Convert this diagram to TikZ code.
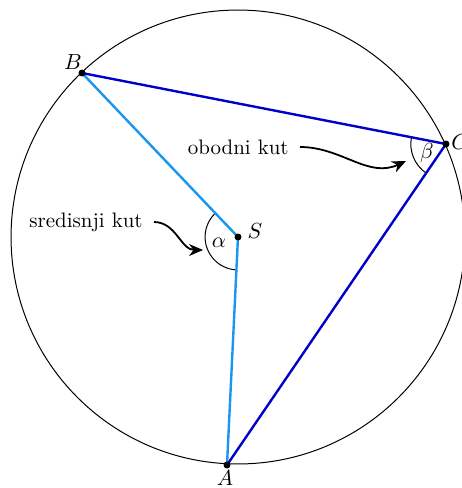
\documentclass[tikz,border=0pt]{standalone}
\usetikzlibrary{arrows.meta,calc}
\definecolor{lightb}{RGB}{25,150,240}
\definecolor{darkb}{RGB}{0,0,200}
\begin{document}
\begin{tikzpicture}[x=0.01762cm,y=-0.01762cm,
  font=\fontsize{10.5}{12}\selectfont,
  dot/.style={circle,fill=black,inner sep=0pt,minimum size=3.5pt},
  radline/.style={lightb,line width=1.2pt},
  chordline/.style={darkb,line width=1.2pt},
  anglearc/.style={line width=0.5pt},
  pointer/.style={black,line width=0.9pt,-{Stealth[length=7pt,width=6pt]}},
  lbl/.style={inner sep=1pt}]
\useasboundingbox (0,0) rectangle (462,488);
\begin{scope}
\clip (0,0) rectangle (462,488);
\coordinate (S) at (238,237);
\coordinate (A) at (227,465);
\coordinate (B) at (82,73);
\coordinate (C) at (446,144);
\draw[line width=0.5pt] (S) circle[radius=4cm];
% angle arcs
\draw[anglearc] ($(S)+(133.6:0.58cm)$) arc[start angle=133.6,end angle=267.2,radius=0.58cm];
\draw[anglearc] ($(C)+(169:0.62cm)$) arc[start angle=169,end angle=235.7,radius=0.62cm];
% segments
\draw[radline] (B) -- (S) -- (A);
\draw[chordline] (B) -- (C) -- (A);
% dots
\node[dot] (dS) at (S) {};
\node[dot] (dA) at (A) {};
\node[dot] (dB) at (B) {};
\node[dot] (dC) at (C) {};
% point labels
\node[lbl] (lS) at (255,231) {$S$};
\node[lbl] (lA) at (225,478) {$A$};
\node[lbl] (lB) at (73,62) {$B$};
\node[lbl] (lC) at (460,142) {$C$};
\node[lbl] (la) at (219,243) {$\alpha$};
\node[lbl] (lb) at (427,153) {$\beta$};
% annotations
\node[lbl,anchor=east] (sred) at (145,222) {sredisnji kut};
\node[lbl,anchor=east] (obod) at (291,147) {obodni kut};
\coordinate (ta) at (203,250);
\coordinate (tb) at (406,161);
\draw[pointer] (sred.east) ++(9,0) to[out=0,in=180] (ta);
\draw[pointer] (obod.east) ++(9,0) to[out=0,in=205] (tb);
\end{scope}
\end{tikzpicture}
\end{document}
